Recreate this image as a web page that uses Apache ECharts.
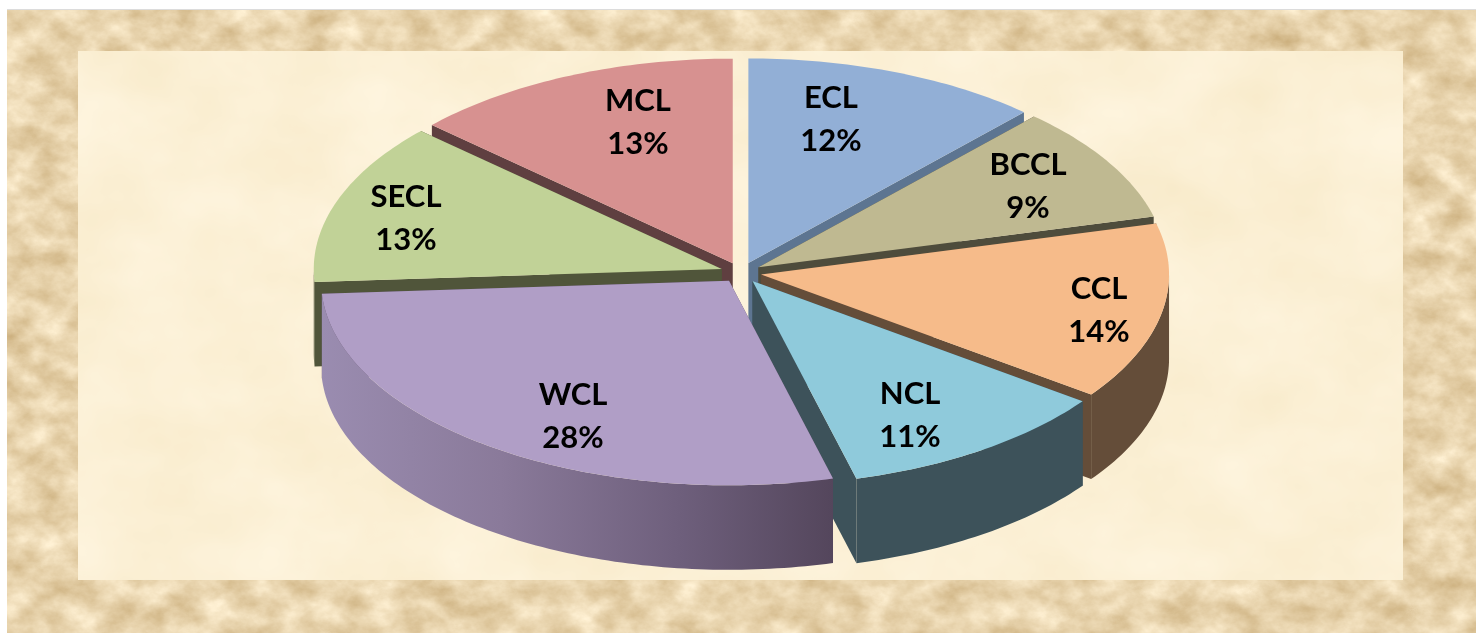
<!DOCTYPE html>
<html>
<head>
<meta charset="utf-8">
<script src="https://cdn.jsdelivr.net/npm/echarts@6/dist/echarts.min.js"></script>
<style>
html,body{margin:0;padding:0;background:#fff;width:1476px;height:633px;overflow:hidden}
#bg{position:absolute;left:0;top:0}
#chart{position:absolute;left:0;top:0;width:1476px;height:633px}
</style>
</head>
<body>
<svg id="bg" width="1476" height="633" xmlns="http://www.w3.org/2000/svg">
  <defs>
    <filter id="outer" x="0" y="0" width="100%" height="100%" color-interpolation-filters="sRGB">
      <feTurbulence type="fractalNoise" baseFrequency="0.03 0.04" numOctaves="5" seed="7"/>
      <feColorMatrix type="matrix" values="0.25 0 0 0 0.785  0.32 0 0 0 0.67  0.42 0 0 0 0.47  0 0 0 0 1"/>
    </filter>
    <filter id="inner" x="0" y="0" width="100%" height="100%" color-interpolation-filters="sRGB">
      <feTurbulence type="fractalNoise" baseFrequency="0.009 0.012" numOctaves="4" seed="3"/>
      <feColorMatrix type="matrix" values="0.03 0 0 0 0.97  0.05 0 0 0 0.915  0.1 0 0 0 0.785  0 0 0 0 1"/>
    </filter>
  </defs>
  <rect x="7" y="9" width="1469" height="1" fill="#dcdcdc"/>
  <rect x="7" y="10" width="1469" height="623" filter="url(#outer)"/>
  <rect x="78" y="51" width="1325" height="529" filter="url(#inner)"/>
</svg>
<div id="chart"></div>
<script>
// ---- data (slice sizes estimated; labels show them rounded) ----
const categories = ['ECL', 'BCCL', 'CCL', 'NCL', 'WCL', 'SECL', 'MCL'];
const shares = [11.8, 9.2, 14, 10.9, 28.1, 12.8, 13.2];

// ---- styling ----
const topColors = ['#92afd6', '#bfb991', '#f6bb8a', '#8fcadb', '#b09ec6', '#c1d297', '#d79190'];
const sideColors = ['#5d7591', '#4e4c3c', '#644d39', '#3d525a', '#584a60', '#50553a', '#5f3f40'];
const wallStops = {
  WCL: [[0, '#9a8cb0'], [0.35, '#8a7a9a'], [0.7, '#6e5f7c'], [1, '#54465c']]
};
const labelCentres = {
  ECL: [831, 119], BCCL: [1028, 186], CCL: [1099, 310], NCL: [910, 415],
  WCL: [573, 416], SECL: [406, 218], MCL: [638, 122]
};
const paintOrder = ['MCL', 'ECL', 'BCCL', 'SECL', 'CCL', 'NCL', 'WCL'];

// ---- pie projection ----
const PIE = { cx: 741, cy: 272.5, rx: 408, ry: 204.5, depth: 84.5, explode: 0.05 };

const total = shares.reduce((a, b) => a + b, 0);
const spans = {};
let acc = 0;
categories.forEach((c, i) => {
  spans[c] = { start: acc / total * 360, end: (acc + shares[i]) / total * 360, i };
  acc += shares[i];
});

function rad(d) { return d * Math.PI / 180; }

function sliceShapes(name) {
  const s = spans[name];
  const mid = rad((s.start + s.end) / 2);
  const ax = PIE.cx + PIE.explode * PIE.rx * Math.sin(mid);
  const ay = PIE.cy - PIE.explode * PIE.ry * Math.cos(mid);
  const at = d => [ax + PIE.rx * Math.sin(rad(d)), ay - PIE.ry * Math.cos(rad(d))];
  const down = p => [p[0], p[1] + PIE.depth];
  const arc = (a, b) => {
    const pts = [];
    for (let d = a; d < b; d += 1) pts.push(at(d));
    pts.push(at(b));
    return pts;
  };
  const apex = [ax, ay];
  const top = [apex].concat(arc(s.start, s.end));
  const startFace = [apex, at(s.start), down(at(s.start)), down(apex)];
  const endFace = [apex, at(s.end), down(at(s.end)), down(apex)];
  let wall = null;
  const w0 = Math.max(s.start, 90), w1 = Math.min(s.end, 270);
  if (w1 > w0) {
    const upper = arc(w0, w1);
    wall = upper.concat(upper.slice().reverse().map(down));
  }
  return { top, startFace, endFace, wall };
}

const chart = echarts.init(document.getElementById('chart'), null, { renderer: 'canvas' });

chart.setOption({
  backgroundColor: 'transparent',
  animation: false,
  tooltip: { show: false },
  series: [{
    type: 'custom',
    coordinateSystem: 'none',
    silent: true,
    data: paintOrder.map(n => [categories.indexOf(n)]),
    renderItem: function (params, api) {
      const idx = api.value(0);
      const name = categories[idx];
      const g = sliceShapes(name);
      const side = sideColors[idx];
      const kids = [];
      const poly = (pts, fill) => kids.push({
        type: 'polygon',
        shape: { points: pts },
        style: { fill: fill, stroke: null }
      });
      poly(g.startFace, side);
      poly(g.endFace, side);
      if (g.wall) {
        const stops = wallStops[name];
        poly(g.wall, stops
          ? new echarts.graphic.LinearGradient(0, 0, 1, 0, stops.map(s => ({ offset: s[0], color: s[1] })))
          : side);
      }
      poly(g.top, topColors[idx]);
      return { type: 'group', children: kids };
    }
  }, {
    type: 'custom',
    coordinateSystem: 'none',
    silent: true,
    z: 5,
    data: categories.map((c, i) => [i]),
    renderItem: function (params, api) {
      const idx = api.value(0);
      const name = categories[idx];
      const p = labelCentres[name];
      return {
        type: 'text',
        x: p[0],
        y: p[1],
        style: {
          text: name + '\n' + Math.round(shares[idx]) + '%',
          fill: '#000',
          font: 'bold 31px Lato',
          lineHeight: 43,
          align: 'center',
          verticalAlign: 'middle'
        }
      };
    }
  }]
});
</script>
</body>
</html>
